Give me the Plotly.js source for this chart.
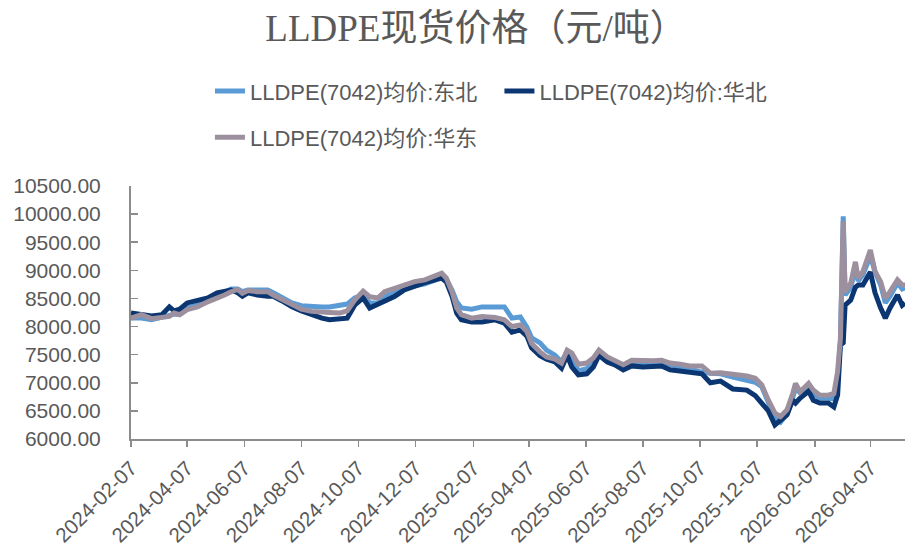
<!DOCTYPE html>
<html>
<head>
<meta charset="utf-8">
<script src="https://cdn.plot.ly/plotly-3.0.1.min.js"></script>
<style>html,body{margin:0;padding:0;background:#fff;}#chart{width:905px;height:550px;}</style>
</head>
<body>
<div id="chart"></div>
<script>
const dates = [
"2024-02-07","2024-02-18","2024-02-29","2024-03-11","2024-03-19","2024-03-24","2024-03-30","2024-04-07","2024-04-18","2024-04-29",
"2024-05-09","2024-05-17","2024-05-24","2024-05-31","2024-06-05","2024-06-11","2024-06-21","2024-07-02","2024-07-08","2024-07-17",
"2024-07-28","2024-08-07","2024-08-18","2024-08-29","2024-09-06","2024-09-17","2024-09-25","2024-10-03","2024-10-12","2024-10-19",
"2024-10-28","2024-11-04","2024-11-15","2024-11-25","2024-12-06","2024-12-17","2024-12-28","2025-01-04","2025-01-09","2025-01-15",
"2025-01-20","2025-01-25","2025-02-05","2025-02-16","2025-03-02","2025-03-12","2025-03-20","2025-03-29","2025-04-05","2025-04-10",
"2025-04-19","2025-04-26","2025-05-05","2025-05-12","2025-05-18","2025-05-23","2025-05-30","2025-06-08","2025-06-15","2025-06-21",
"2025-06-30","2025-07-08","2025-07-17","2025-07-26","2025-08-07","2025-08-18","2025-08-27","2025-09-05","2025-09-16","2025-09-26",
"2025-10-09","2025-10-18","2025-10-29","2025-11-11","2025-11-26","2025-12-05","2025-12-12","2025-12-19","2025-12-26","2026-01-01",
"2026-01-08","2026-01-14","2026-01-17","2026-01-22","2026-01-31","2026-02-05","2026-02-12","2026-02-21","2026-02-27","2026-03-03",
"2026-03-06","2026-03-09","2026-03-11","2026-03-17","2026-03-22","2026-03-25","2026-03-30","2026-04-07","2026-04-12","2026-04-18",
"2026-04-23","2026-04-28","2026-05-06","2026-05-11","2026-05-14"
];

// LLDPE(7042)均价:东北
const northeast = [
8150,8150,8120,8170,8190,8220,8220,8330,8380,8470,
8540,8620,8670,8670,8620,8650,8650,8650,8600,8510,
8420,8370,8350,8350,8350,8370,8400,8510,8560,8420,
8420,8530,8600,8690,8720,8760,8830,8900,8830,8650,
8440,8330,8310,8350,8350,8350,8150,8170,7990,7800,
7710,7580,7490,7370,7550,7460,7210,7250,7370,7550,
7440,7370,7300,7330,7320,7350,7370,7330,7280,7230,
7190,7170,7160,7100,7030,7010,6930,6640,6370,6300,
6450,6730,6910,6820,6930,6800,6730,6730,6710,7090,
7730,9960,8560,8690,9040,8810,8920,9260,8970,8740,
8420,8540,8780,8670,8690
];

// LLDPE(7042)均价:华北
const northChina = [
8240,8220,8190,8210,8350,8280,8310,8420,8460,8510,
8600,8630,8650,8600,8540,8600,8560,8540,8540,8460,
8350,8280,8210,8150,8120,8140,8150,8380,8510,8330,
8400,8460,8540,8650,8720,8780,8830,8860,8790,8540,
8240,8120,8080,8080,8120,8060,7900,7940,7830,7620,
7480,7420,7370,7260,7490,7280,7140,7160,7280,7490,
7370,7320,7230,7300,7280,7280,7300,7230,7210,7170,
7160,7000,7030,6890,6870,6770,6640,6500,6250,6340,
6430,6690,6640,6730,6850,6690,6640,6640,6570,6780,
7670,7710,8380,8470,8700,8740,8740,8970,8600,8330,
8150,8330,8560,8380,8420
];

// LLDPE(7042)均价:华东
const eastChina = [
8150,8210,8140,8170,8180,8240,8210,8300,8350,8440,
8500,8560,8620,8660,8590,8640,8620,8620,8560,8490,
8380,8310,8270,8270,8250,8240,8280,8470,8630,8530,
8510,8620,8680,8740,8800,8830,8900,8950,8860,8620,
8330,8210,8150,8180,8160,8120,8000,8030,7910,7700,
7550,7460,7420,7350,7580,7530,7330,7350,7440,7580,
7460,7400,7320,7400,7390,7390,7400,7350,7330,7300,
7300,7170,7180,7160,7120,7080,6960,6690,6460,6400,
6520,6810,6990,6840,6990,6870,6780,6780,6810,7200,
7790,9870,8620,8770,9150,8860,8980,9360,8980,8800,
8500,8620,8830,8740,8740
];

const seriesNames = ["LLDPE(7042)均价:东北", "LLDPE(7042)均价:华北", "LLDPE(7042)均价:华东"];
const tickDates = ["2024-02-07","2024-04-07","2024-06-07","2024-08-07","2024-10-07","2024-12-07","2025-02-07",
  "2025-04-07","2025-06-07","2025-08-07","2025-10-07","2025-12-07","2026-02-07","2026-04-07"];
const yTicks = [6000,6500,7000,7500,8000,8500,9000,9500,10000,10500];

const colors = ["#5b9bd5", "#0b3672", "#9d909e"];
const txt = "#595959";
const axisCol = "#8c8c8c";
const sans = "'Liberation Sans', 'Noto Sans CJK SC', sans-serif";

const traces = [northeast, northChina, eastChina].map((vals, i) => ({
  type: "scatter", mode: "lines", x: dates, y: vals, name: seriesNames[i],
  line: {color: colors[i], width: 5, shape: "linear"},
  legend: i === 0 ? "legend" : (i === 1 ? "legend2" : "legend3"),
  hoverinfo: "x+y+name"
}));

const legendBase = {orientation: "h", xanchor: "left", yanchor: "middle", bgcolor: "rgba(0,0,0,0)",
  font: {family: sans, size: 22, color: txt}, borderwidth: 0};

const layout = {
  width: 905, height: 550,
  margin: {l: 131, r: 0, t: 186, b: 111, pad: 0},
  paper_bgcolor: "#ffffff", plot_bgcolor: "#ffffff",
  title: {text: "LLDPE现货价格（元/吨）", x: 0.526, xref: "container", xanchor: "center",
    y: 0.949, yref: "container", yanchor: "middle",
    font: {family: "'Liberation Serif', 'Noto Sans CJK SC', serif", size: 37, color: txt}},
  showlegend: true,
  legend: Object.assign({}, legendBase, {x: 0.102, y: 1.375}),
  legend2: Object.assign({}, legendBase, {x: 0.476, y: 1.375}),
  legend3: Object.assign({}, legendBase, {x: 0.102, y: 1.192}),
  xaxis: {
    type: "date", range: ["2024-02-07", "2026-05-14"],
    tickmode: "array", tickvals: tickDates, ticktext: tickDates,
    tickangle: -45, ticks: "outside", ticklen: 6, tickwidth: 1.5, tickcolor: axisCol,
    showline: true, linecolor: axisCol, linewidth: 2, showgrid: false, zeroline: false,
    ticklabelstandoff: 1,
    tickfont: {family: sans, size: 20.5, color: txt}, fixedrange: true
  },
  yaxis: {
    range: [6000, 10500], tickmode: "array", tickvals: yTicks, tickformat: ".2f",
    ticks: "inside", ticklen: 7, tickwidth: 1.5, tickcolor: axisCol,
    showline: true, linecolor: axisCol, linewidth: 2, showgrid: false, zeroline: false,
    ticklabelstandoff: 24,
    tickfont: {family: sans, size: 21, color: txt}, fixedrange: true
  }
};

Plotly.newPlot("chart", traces, layout, {displayModeBar: false, staticPlot: true});
</script>
</body>
</html>
